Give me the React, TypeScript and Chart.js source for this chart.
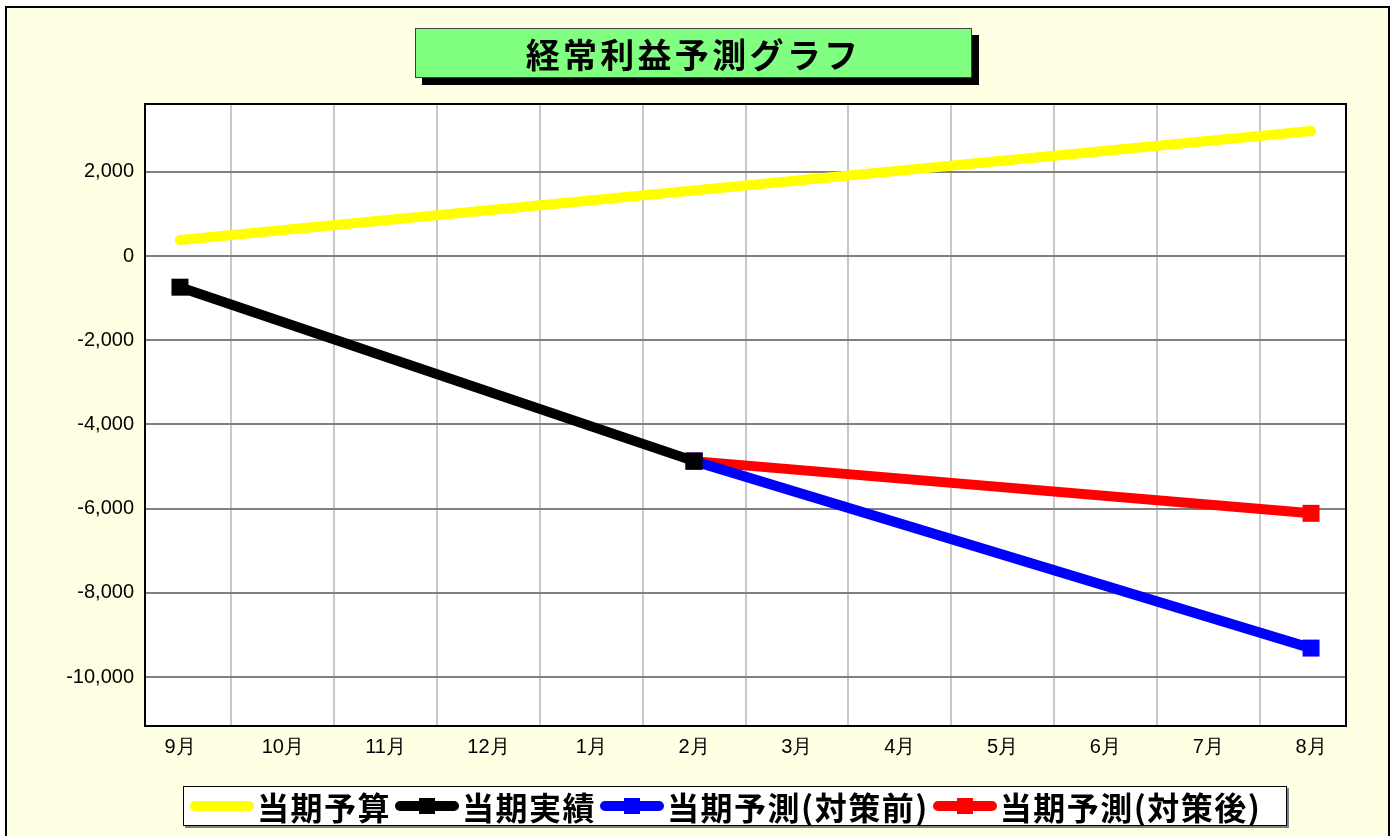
import React, { useEffect, useRef } from "react";
import { Chart, registerables } from "chart.js";

Chart.register(...registerables);

const months = ["9月", "10月", "11月", "12月", "1月", "2月", "3月", "4月", "5月", "6月", "7月", "8月"];
const budget: (number | null)[] = [380, null, null, null, null, null, null, null, null, null, null, 2970];
const actual: (number | null)[] = [-740, null, null, null, null, -4870, null, null, null, null, null, null];
const forecastBefore: (number | null)[] = [null, null, null, null, null, -4870, null, null, null, null, null, -9310];
const forecastAfter: (number | null)[] = [null, null, null, null, null, -4870, null, null, null, null, null, -6110];
const yTicks = [-10000, -8000, -6000, -4000, -2000, 0, 2000];
const seriesNames = ["当期予算", "当期実績", "当期予測(対策前)", "当期予測(対策後)"];
const seriesColors = ["#FFFF00", "#000000", "#0000FF", "#FF0000"];
const seriesMarkers = [false, true, true, true];
const title = "経常利益予測グラフ";

const toPoints = (arr: (number | null)[]) => arr.map((v, i) => ({ x: i, y: v }));

export default function App() {
  const ref = useRef<HTMLCanvasElement>(null);
  useEffect(() => {
    if (!ref.current) return;
    const series = [budget, actual, forecastBefore, forecastAfter];
    const plotBg = {
      id: "plotBg",
      beforeDraw(chart: any) {
        const { ctx, chartArea: a } = chart;
        ctx.save();
        ctx.fillStyle = "#FFFFFF";
        ctx.fillRect(a.left, a.top, a.right - a.left, a.bottom - a.top);
        ctx.restore();
      },
      afterDraw(chart: any) {
        const { ctx, chartArea: a } = chart;
        ctx.save();
        ctx.strokeStyle = "#000000";
        ctx.lineWidth = 2;
        ctx.strokeRect(a.left, a.top, a.right - a.left, a.bottom - a.top);
        ctx.restore();
      },
    };
    const chart = new Chart(ref.current, {
      type: "line",
      data: {
        datasets: series.map((s, i) => ({
          label: seriesNames[i],
          data: toPoints(s),
          borderColor: seriesColors[i],
          backgroundColor: seriesColors[i],
          borderWidth: 10,
          borderCapStyle: "round",
          spanGaps: true,
          pointStyle: "rect",
          pointRadius: seriesMarkers[i] ? 12 : 0,
          pointBorderWidth: 0,
          pointHoverRadius: seriesMarkers[i] ? 12 : 0,
          tension: 0,
        })),
      } as any,
      options: {
        animation: false,
        responsive: true,
        maintainAspectRatio: false,
        layout: { padding: { left: 0, top: 104, right: 53, bottom: 70 } },
        plugins: { legend: { display: false }, tooltip: { enabled: false } },
        scales: {
          x: {
            type: "linear",
            min: -0.34,
            max: 11.34,
            afterBuildTicks: (scale: any) => {
              const t: any[] = [];
              for (let i = 0; i < months.length; i++) {
                t.push({ value: i });
                if (i < months.length - 1) t.push({ value: i + 0.5 });
              }
              scale.ticks = t;
            },
            afterFit: (scale: any) => {
              scale.height = 40;
            },
            ticks: {
              autoSkip: false,
              maxRotation: 0,
              padding: 9,
              color: "#000000",
              font: { family: "'Liberation Sans', Arial, sans-serif", size: 20 },
              callback: (v: any) => (Number.isInteger(v) ? months[v] : ""),
            },
            grid: {
              drawTicks: false,
              lineWidth: 2,
              color: (ctx: any) =>
                ctx.tick && !Number.isInteger(ctx.tick.value) ? "#C8C8C8" : "rgba(0,0,0,0)",
            },
            border: { display: false },
          },
          y: {
            type: "linear",
            min: -11160,
            max: 3610,
            afterBuildTicks: (scale: any) => {
              scale.ticks = yTicks.map((v) => ({ value: v }));
            },
            afterFit: (scale: any) => {
              scale.width = 145;
            },
            ticks: {
              padding: 11,
              color: "#000000",
              font: { family: "'Liberation Sans', Arial, sans-serif", size: 20 },
              callback: (v: any) => Number(v).toLocaleString("en-US"),
            },
            grid: { drawTicks: false, lineWidth: 2, color: "#808080" },
            border: { display: false },
          },
        },
      } as any,
      plugins: [plotBg],
    });
    return () => chart.destroy();
  }, []);

  const legendFont = "'Noto Sans CJK JP', 'Noto Sans', sans-serif";
  return (
    <div style={{ position: "fixed", left: 0, top: 0, width: 1399, height: 836, background: "#FFFFFF", overflow: "hidden" }}>
      <div
        style={{
          position: "absolute",
          left: 5,
          top: 6,
          width: 1381,
          height: 900,
          border: "2px solid #000000",
          background: "#FFFFE4",
        }}
      />
      <div style={{ position: "absolute", left: 0, top: 0, width: 1399, height: 836 }}>
        <canvas ref={ref} />
      </div>
      <div
        style={{
          position: "absolute",
          left: 415,
          top: 28,
          width: 555,
          height: 48,
          background: "#80FF80",
          border: "1px solid #404040",
          boxShadow: "7px 7px 0 #000000",
          display: "flex",
          alignItems: "center",
          justifyContent: "center",
          fontFamily: legendFont,
          fontWeight: 700,
          fontSize: 34,
          letterSpacing: 3.3,
          color: "#000000",
        }}
      >
        {title}
      </div>
      <div
        style={{
          position: "absolute",
          left: 183,
          top: 786,
          width: 1096,
          height: 38,
          background: "#FFFFFF",
          border: "1px solid #000000",
          boxShadow: "2px 2px 0 #808080",
          display: "flex",
          alignItems: "center",
          paddingLeft: 6,
          boxSizing: "content-box",
          fontFamily: legendFont,
          fontWeight: 700,
          fontSize: 32,
          letterSpacing: 1.5,
          color: "#000000",
          whiteSpace: "nowrap",
        }}
      >
        {seriesNames.map((n, i) => (
          <div key={n} style={{ display: "flex", alignItems: "center", marginRight: 4 }}>
            <span
              style={{
                position: "relative",
                display: "inline-block",
                width: 64,
                height: 10,
                borderRadius: 5,
                background: seriesColors[i],
                marginRight: 3,
              }}
            >
              {seriesMarkers[i] && (
                <span
                  style={{
                    position: "absolute",
                    left: 24,
                    top: -3,
                    width: 16,
                    height: 16,
                    background: seriesColors[i],
                  }}
                />
              )}
            </span>
            <span style={{ lineHeight: "38px" }}>{n}</span>
          </div>
        ))}
      </div>
    </div>
  );
}
